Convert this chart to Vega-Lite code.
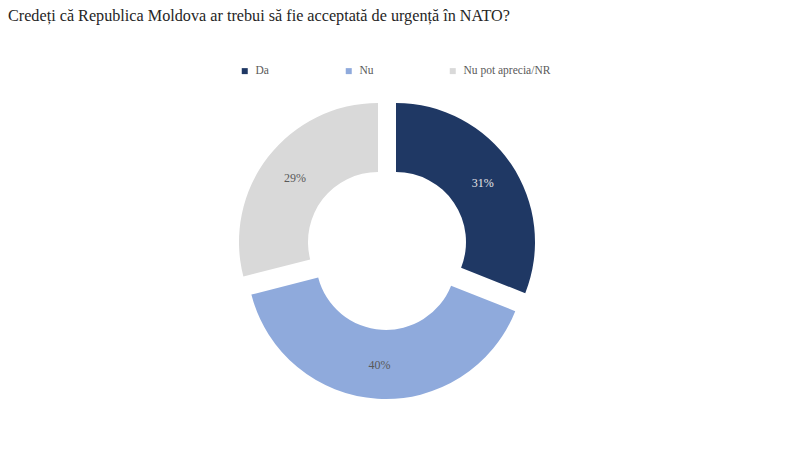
{
  "$schema": "https://vega.github.io/schema/vega-lite/v6.json",
  "width": 308,
  "height": 308,
  "autosize": "none",
  "padding": {"left": 233, "top": 95, "right": 259, "bottom": 52},
  "background": "white",
  "config": {"view": {"stroke": null}},
  "title": {
    "text": "Credeți că Republica Moldova ar trebui să fie acceptată de urgență în NATO?",
    "anchor": "start",
    "frame": "group",
    "dx": -225,
    "offset": 28,
    "baseline": "alphabetic",
    "font": "Liberation Serif",
    "fontSize": 16.2,
    "fontWeight": "normal",
    "color": "#262626"
  },
  "data": {
    "values": [
      {"cat": "Da", "value": 31, "o": 1, "label": "31%"},
      {"cat": "Nu", "value": 40, "o": 2, "label": "40%"},
      {"cat": "Nu pot aprecia/NR", "value": 29, "o": 3, "label": "29%"}
    ]
  },
  "encoding": {
    "theta": {"field": "value", "type": "quantitative", "stack": true},
    "order": {"field": "o", "type": "quantitative"}
  },
  "layer": [
    {
      "mark": {"type": "arc", "outerRadius": 139, "innerRadius": 70, "xOffset": 9, "yOffset": -7},
      "encoding": {
        "color": {
          "field": "cat", "type": "nominal",
          "scale": {"domain": ["Da", "Nu", "Nu pot aprecia/NR"], "range": ["#1F3864", "#8FAADC", "#D9D9D9"]},
          "legend": {
            "title": null, "orient": "none", "legendX": 6, "legendY": -30,
            "direction": "horizontal", "columns": 3, "gridAlign": "all",
            "symbolType": "square", "symbolSize": 36, "symbolStrokeWidth": 0,
            "labelFont": "Liberation Serif", "labelFontSize": 11.5, "labelColor": "#595959",
            "columnPadding": -1, "labelOffset": 5
          }
        },
        "opacity": {"condition": {"test": "datum.cat === 'Da'", "value": 1}, "value": 0}
      }
    },
    {
      "mark": {"type": "arc", "outerRadius": 139, "innerRadius": 70, "xOffset": -1, "yOffset": 11},
      "encoding": {
        "color": {"field": "cat", "type": "nominal"},
        "opacity": {"condition": {"test": "datum.cat === 'Nu'", "value": 1}, "value": 0}
      }
    },
    {
      "mark": {"type": "arc", "outerRadius": 139, "innerRadius": 70, "xOffset": -9, "yOffset": -7},
      "encoding": {
        "color": {"field": "cat", "type": "nominal"},
        "opacity": {"condition": {"test": "datum.cat === 'Nu pot aprecia/NR'", "value": 1}, "value": 0}
      }
    },
    {
      "mark": {"type": "text", "radius": 105, "xOffset": 9, "yOffset": -7, "font": "Liberation Serif", "fontSize": 12, "fill": "#E6E6E6"},
      "encoding": {
        "text": {"condition": {"test": "datum.cat === 'Da'", "field": "label"}, "value": ""}
      }
    },
    {
      "mark": {"type": "text", "radius": 105, "xOffset": -1, "yOffset": 11, "font": "Liberation Serif", "fontSize": 12, "fill": "#595959"},
      "encoding": {
        "text": {"condition": {"test": "datum.cat === 'Nu'", "field": "label"}, "value": ""}
      }
    },
    {
      "mark": {"type": "text", "radius": 105, "xOffset": -9, "yOffset": -7, "font": "Liberation Serif", "fontSize": 12, "fill": "#595959"},
      "encoding": {
        "text": {"condition": {"test": "datum.cat === 'Nu pot aprecia/NR'", "field": "label"}, "value": ""}
      }
    }
  ]
}
